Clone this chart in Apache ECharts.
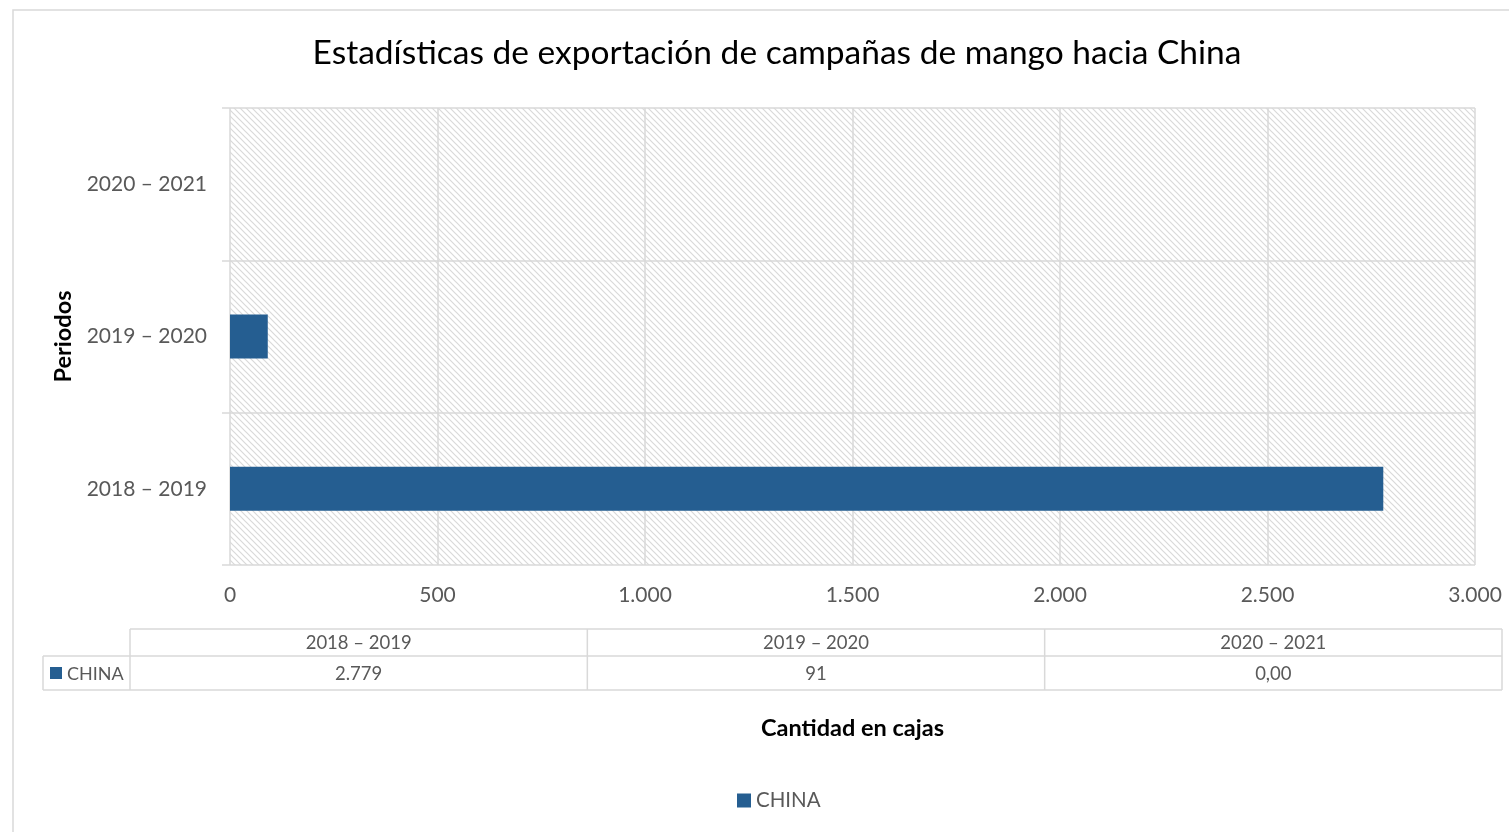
<!DOCTYPE html>
<html>
<head>
<meta charset="utf-8">
<script src="https://cdn.jsdelivr.net/npm/echarts@6/dist/echarts.min.js"></script>
<style>
html, body { margin: 0; padding: 0; background: #fff; }
#chart_container { width: 1509px; height: 832px; }
</style>
</head>
<body>
<div id="chart_container"></div>
<script>
"use strict";

// datos
const periodos = ['2018 – 2019', '2019 – 2020', '2020 – 2021'];
const china = [2779, 91, 0];
const serieName = 'CHINA';
const xMax = 3000;
const xStep = 500;

const FONT = 'Lato, "Liberation Sans", sans-serif';
const GRIS = '#595959';
const LINEA = '#d9d9d9';
const AZUL = '#255e91';

let fmtMiles = (v) => String(v).replace(/\B(?=(\d{3})+(?!\d))/g, '.');
let fmtTabla = (v) => v === 0 ? '0,00' : fmtMiles(v);

// trama diagonal del area de trazado
let trama = () => {
    const c = document.createElement('canvas');
    c.width = 6; c.height = 6;
    const ctx = c.getContext('2d');
    ctx.strokeStyle = LINEA;
    ctx.lineWidth = 1.2;
    ctx.beginPath();
    ctx.moveTo(-1, -1); ctx.lineTo(7, 7);
    ctx.moveTo(-1, 5); ctx.lineTo(1, 7);
    ctx.moveTo(5, -1); ctx.lineTo(7, 1);
    ctx.stroke();
    return c;
};

// tabla de datos bajo el eje
let tablaGraphic = () => {
    const x0 = 130, x1 = 1502, keyX = 43;
    const yTop = 629, yMid = 656, yBot = 690;
    const colW = (x1 - x0) / periodos.length;
    const line = (xa, ya, xb, yb) => ({
        type: 'line', silent: true,
        shape: { x1: xa, y1: ya, x2: xb, y2: yb },
        style: { stroke: LINEA, lineWidth: 1.5 }
    });
    const txt = (t, x, y, align, size) => ({
        type: 'text', silent: true,
        style: { text: t, x: x, y: y, align: align || 'center', verticalAlign: 'middle',
                 fill: GRIS, fontSize: size || 18.5, fontFamily: FONT }
    });
    let els = [];
    els.push(line(x0, yTop, x1, yTop));
    els.push(line(keyX, yMid, x1, yMid));
    els.push(line(keyX, yBot, x1, yBot));
    els.push(line(keyX, yMid, keyX, yBot));
    for (let i = 0; i <= periodos.length; i++) {
        const x = x0 + colW * i;
        els.push(line(x, yTop, x, yBot));
    }
    periodos.forEach((p, i) => {
        const cx = x0 + colW * (i + 0.5);
        els.push(txt(p, cx, (yTop + yMid) / 2 + 1));
        els.push(txt(fmtTabla(china[i]), cx, (yMid + yBot) / 2 + 1));
    });
    els.push({ type: 'rect', silent: true, shape: { x: 50, y: 667, width: 12, height: 12 },
               style: { fill: AZUL } });
    els.push(txt(serieName, 67, (yMid + yBot) / 2 + 1, 'left', 18));
    return els;
};

let pageLoaded = () => {
    let chartDom = document.getElementById('chart_container');
    let myChart = echarts.init(chartDom);

    let optEchart = {
        backgroundColor: '#fff',
        animation: false,
        textStyle: { fontFamily: FONT },
        title: {
            text: 'Estadísticas de exportación de campañas de mango hacia China',
            left: 772, top: 31, textAlign: 'center',
            textStyle: { fontSize: 33.5, fontWeight: 'normal', color: '#000', fontFamily: FONT }
        },
        legend: {
            data: [serieName],
            left: 732, top: 785,
            icon: 'rect', itemWidth: 14, itemHeight: 14, itemGap: 6,
            textStyle: { fontSize: 20.5, color: GRIS, fontFamily: FONT }
        },
        grid: {
            left: 230, right: 34, top: 108, bottom: 267,
            show: true, borderWidth: 0,
            backgroundColor: { image: trama(), repeat: 'repeat' }
        },
        xAxis: {
            type: 'value', min: 0, max: xMax, interval: xStep,
            name: 'Cantidad en cajas', nameLocation: 'middle', nameGap: 151,
            nameTextStyle: { fontSize: 23.5, fontWeight: 'bold', color: '#000', fontFamily: FONT },
            axisLine: { show: false }, axisTick: { show: false },
            axisLabel: { fontSize: 21, color: GRIS, margin: 20, formatter: fmtMiles },
            splitLine: { show: true, lineStyle: { color: LINEA, width: 1.5 } }
        },
        yAxis: {
            type: 'category', data: periodos,
            name: 'Periodos', nameLocation: 'middle', nameGap: 155, nameRotate: 90,
            nameTextStyle: { fontSize: 23.5, fontWeight: 'bold', color: '#000', fontFamily: FONT },
            axisLine: { show: false },
            axisTick: { show: true, length: 8, lineStyle: { color: LINEA, width: 1.5 } },
            axisLabel: { fontSize: 21, color: GRIS, margin: 23 },
            splitLine: { show: true, lineStyle: { color: LINEA, width: 1.5 } }
        },
        series: [{
            name: serieName, type: 'bar', data: china,
            barWidth: 44, itemStyle: { color: AZUL }
        }],
        graphic: [
            { type: 'rect', silent: true, z: -1,
              shape: { x: 13, y: 10, width: 1600, height: 900 },
              style: { fill: 'none', stroke: LINEA, lineWidth: 1.5 } }
        ].concat(tablaGraphic())
    };

    optEchart && myChart.setOption(optEchart);
};

window.addEventListener('load', pageLoaded, false);
</script>
</body>
</html>
